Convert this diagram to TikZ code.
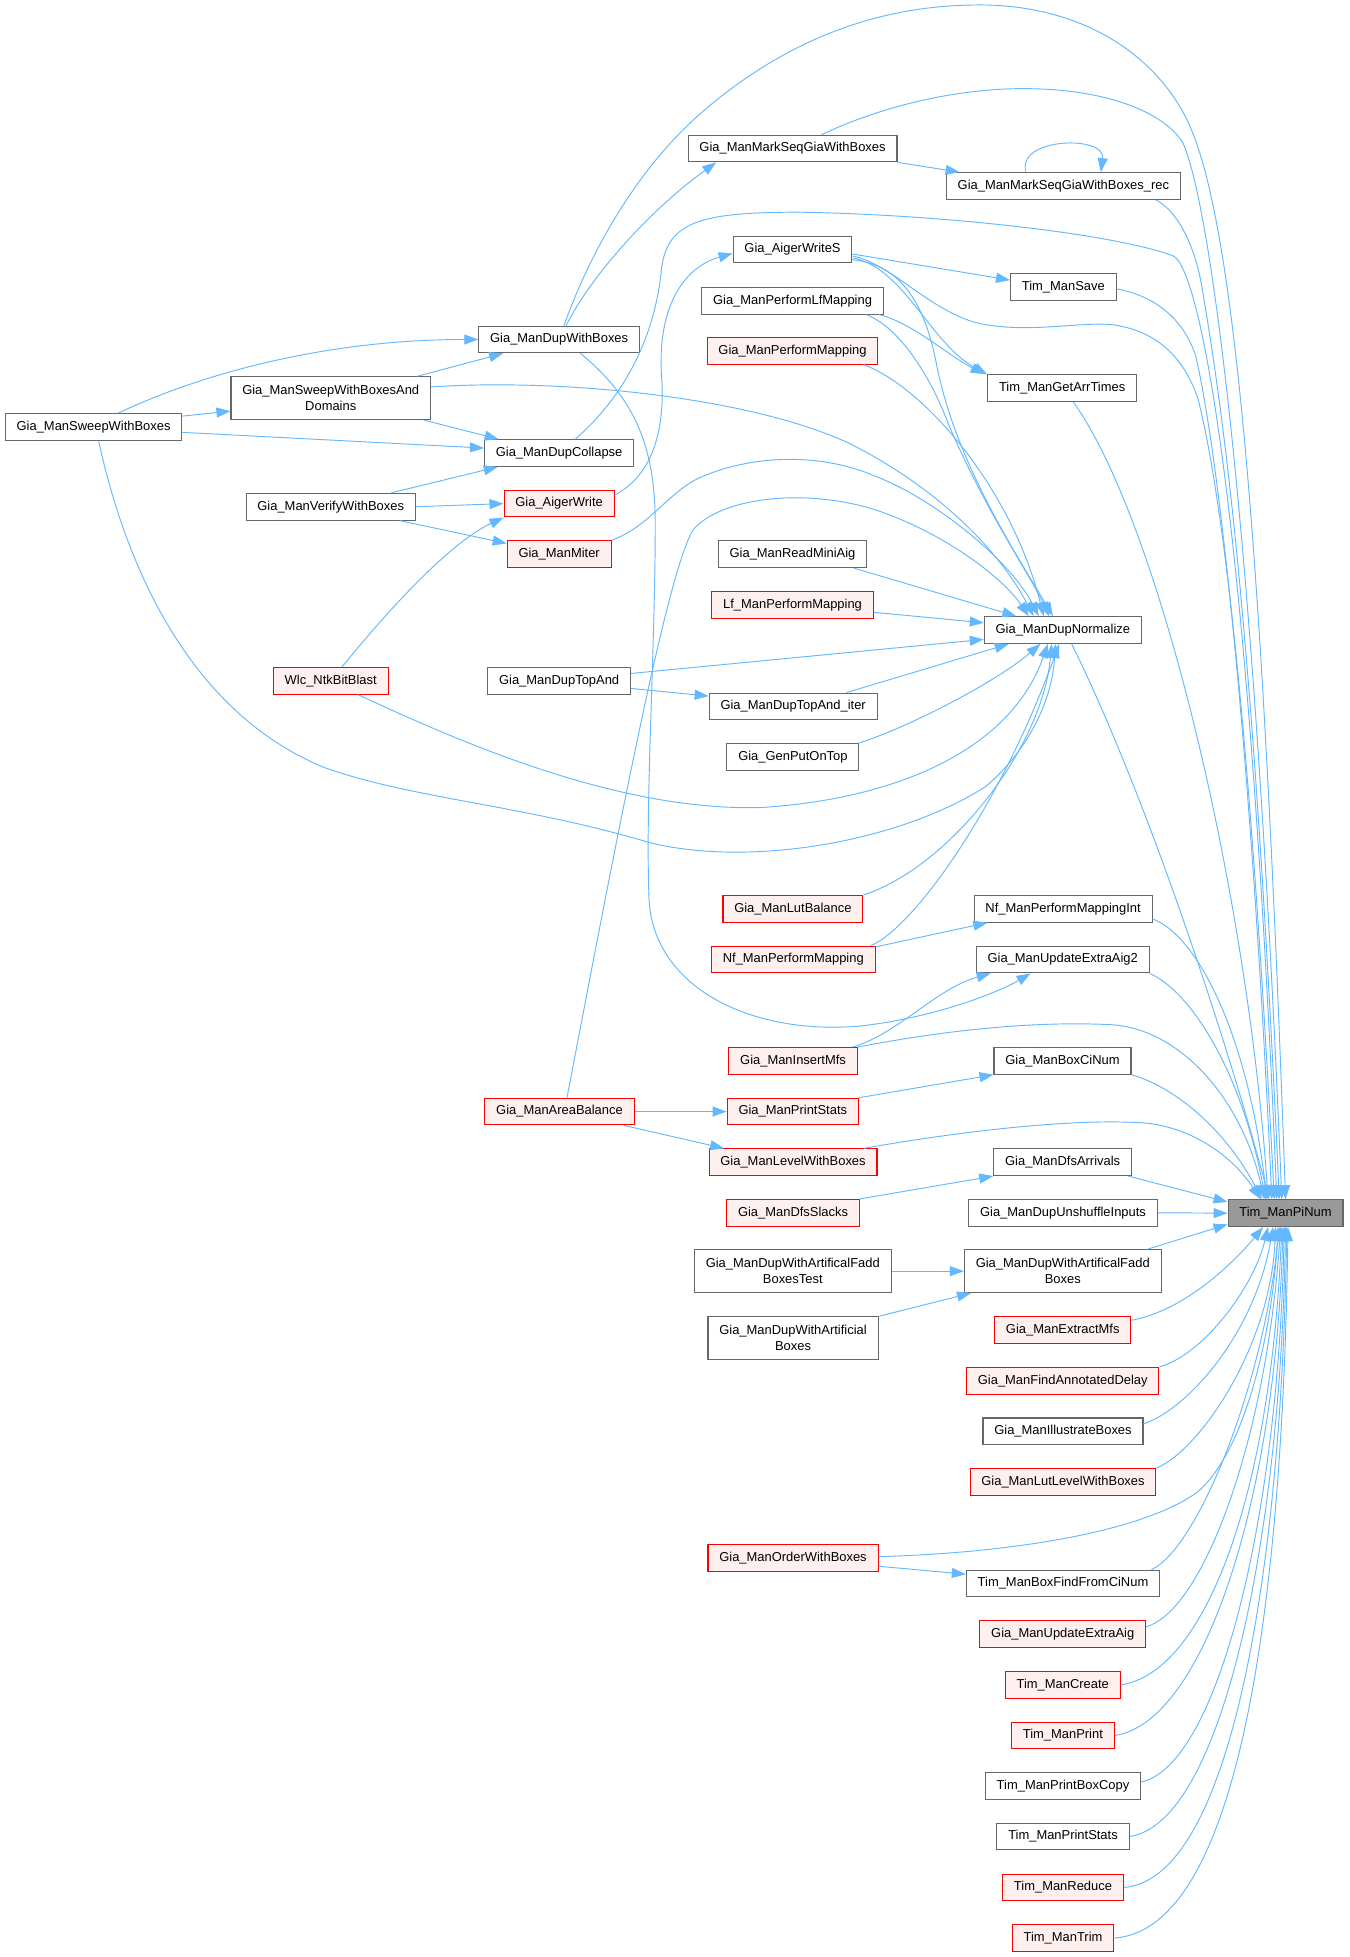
\documentclass[tikz,border=0pt]{standalone}
\usepackage{fontspec}
\setmainfont{Liberation Sans}
\usetikzlibrary{arrows.meta,calc}
\definecolor{edgeblue}{HTML}{63B8FF}
\definecolor{boxgray}{HTML}{666666}
\definecolor{redfill}{HTML}{FFF0F0}
\definecolor{rootgray}{HTML}{999999}
\begin{document}
\begin{tikzpicture}[x=0.9359pt,y=-0.9359pt,
    fn/.style={draw=boxgray,fill=white,line width=0.8pt,minimum height=20pt,
      inner xsep=8.5pt,inner ysep=5pt,align=center,
      font=\fontsize{9.7}{12}\selectfont},
    fnred/.style={fn,draw=red,fill=redfill},
    fnroot/.style={fn,fill=rootgray},
    fntwo/.style={minimum height=32pt},
    call/.style={color=edgeblue,line width=0.7pt,-{Triangle[length=10.5pt,width=7.5pt]}}]
  \fill[white] (0,0) rectangle (1081,1568);
  \useasboundingbox (0,0) rectangle (1081,1568);

  \node[fnroot] (tim) at (1030,972) {Tim\_ManPiNum};

  \node[fn] (mark) at (635,119) {Gia\_ManMarkSeqGiaWithBoxes};
  \node[fn] (markrec) at (852,149) {Gia\_ManMarkSeqGiaWithBoxes\_rec};
  \node[fn] (aws) at (635,200) {Gia\_AigerWriteS};
  \node[fn] (save) at (852,230) {Tim\_ManSave};
  \node[fn] (lfmap) at (635,241) {Gia\_ManPerformLfMapping};
  \node[fnred] (permap) at (635,281) {Gia\_ManPerformMapping};
  \node[fn] (dwb) at (448,272) {Gia\_ManDupWithBoxes};
  \node[fn] (arrtimes) at (851,311) {Tim\_ManGetArrTimes};
  \node[fn,fntwo] (swd) at (265,319) {Gia\_ManSweepWithBoxesAnd\\Domains};
  \node[fn] (sweep) at (75,342) {Gia\_ManSweepWithBoxes};
  \node[fn] (collapse) at (448,363) {Gia\_ManDupCollapse};
  \node[fn] (verify) at (265,406) {Gia\_ManVerifyWithBoxes};
  \node[fnred] (aw) at (448,403.5) {Gia\_AigerWrite};
  \node[fnred] (miter) at (448,444) {Gia\_ManMiter};
  \node[fn] (readmini) at (635,444) {Gia\_ManReadMiniAig};
  \node[fnred] (lf) at (635,484.6) {Lf\_ManPerformMapping};
  \node[fn] (norm) at (851.6,504.8) {Gia\_ManDupNormalize};
  \node[fnred] (wlc) at (265,545.5) {Wlc\_NtkBitBlast};
  \node[fn] (topand) at (448,545.4) {Gia\_ManDupTopAnd};
  \node[fn] (topiter) at (635.5,566) {Gia\_ManDupTopAnd\_iter};
  \node[fn] (puttop) at (635.3,606.3) {Gia\_GenPutOnTop};
  \node[fnred] (lutbal) at (635.3,728.2) {Gia\_ManLutBalance};
  \node[fn] (nfint) at (851.8,728.2) {Nf\_ManPerformMappingInt};
  \node[fnred] (nfmap) at (635.6,768.8) {Nf\_ManPerformMapping};
  \node[fn] (upd2) at (851.5,768.8) {Gia\_ManUpdateExtraAig2};
  \node[fnred] (insmfs) at (635.4,850) {Gia\_ManInsertMfs};
  \node[fn] (boxci) at (851.3,850) {Gia\_ManBoxCiNum};
  \node[fnred] (areabal) at (448.3,890.6) {Gia\_ManAreaBalance};
  \node[fnred] (prstats) at (635.2,890.6) {Gia\_ManPrintStats};
  \node[fnred] (levelwb) at (635.4,931.2) {Gia\_ManLevelWithBoxes};
  \node[fn] (dfsarr) at (851.4,931.2) {Gia\_ManDfsArrivals};
  \node[fnred] (dfssl) at (635.4,971.7) {Gia\_ManDfsSlacks};
  \node[fn] (unshuf) at (851.7,971.7) {Gia\_ManDupUnshuffleInputs};
  \node[fn,fntwo] (faddtest) at (635.2,1018.5) {Gia\_ManDupWithArtificalFadd\\BoxesTest};
  \node[fn,fntwo] (fadd) at (851.5,1018.5) {Gia\_ManDupWithArtificalFadd\\Boxes};
  \node[fn,fntwo] (artbox) at (635.4,1072.2) {Gia\_ManDupWithArtificial\\Boxes};
  \node[fnred] (extmfs) at (851.5,1065.8) {Gia\_ManExtractMfs};
  \node[fnred] (annot) at (851.5,1106.3) {Gia\_ManFindAnnotatedDelay};
  \node[fn] (illus) at (851.7,1146.8) {Gia\_ManIllustrateBoxes};
  \node[fnred] (lutlev) at (851.7,1187.3) {Gia\_ManLutLevelWithBoxes};
  \node[fnred] (order) at (635.4,1248.2) {Gia\_ManOrderWithBoxes};
  \node[fn] (boxfind) at (851.7,1268.8) {Tim\_ManBoxFindFromCiNum};
  \node[fnred] (upd) at (851.5,1309.4) {Gia\_ManUpdateExtraAig};
  \node[fnred] (create) at (851.5,1350) {Tim\_ManCreate};
  \node[fnred] (print) at (851.6,1390.5) {Tim\_ManPrint};
  \node[fn] (pbox) at (851.7,1431.1) {Tim\_ManPrintBoxCopy};
  \node[fn] (tpstats) at (851.7,1471.5) {Tim\_ManPrintStats};
  \node[fnred] (reduce) at (851.7,1512.3) {Tim\_ManReduce};
  \node[fnred] (trim) at (851.7,1552.8) {Tim\_ManTrim};

  \begin{scope}[call]
    % upper part
    \draw (dwb) .. controls (462,232) and (495,150) .. (560,92)
      .. controls (640,22) and (720,3) .. (790,4)
      .. controls (880,6) and (935,55) .. (955,105)
      .. controls (990,190) and (1012,450) .. (tim.north);
    \draw (dwb) .. controls (475,218) and (525,165) .. ($(mark.south west)+(23,0)$);
    \draw (mark.south east) -- ($(markrec.north west)+(11,0)$);
    \draw ($(markrec.north)+(-30,0)$) .. controls (814,110) and (886,108) .. ($(markrec.north)+(30,0)$);
    \draw (mark) .. controls (700,88) and (760,71) .. (820,71)
      .. controls (890,71) and (935,92) .. (948,115)
      .. controls (972,170) and (1006,450) .. ($(tim.north)+(-3,0)$);
    \draw ($(markrec.south east)+(-20,0)$) .. controls (945,170) and (958,200) .. (963,230)
      .. controls (980,330) and (1004,500) .. ($(tim.north)+(-5,0)$);
    \draw (collapse) .. controls (500,318) and (525,270) .. (530,215)
      .. controls (535,178) and (560,170) .. (640,170)
      .. controls (760,172) and (895,188) .. (940,205)
      .. controls (965,218) and (1002,450) .. ($(tim.north)+(-7,0)$);
    \draw ($(aws.east)+(0,5)$) .. controls (715,212) and (740,245) .. (780,258)
      .. controls (820,268) and (860,258) .. (890,260)
      .. controls (930,265) and (950,290) .. (960,320)
      .. controls (985,420) and (1005,650) .. ($(tim.north)+(-9,0)$);
    \draw ($(aws.east)+(0,3.5)$) -- ($(save.west)+(0,-5.6)$);
    \draw ($(aws.east)+(0,6.5)$) .. controls (725,215) and (745,275) .. (arrtimes.north west);
    \draw ($(aws.east)+(0,8)$) .. controls (720,212) and (740,240) .. (750,290)
      .. controls (765,370) and (815,445) .. ($(norm.north)+(-8,0)$);
    \draw ($(lfmap.south east)+(-4,0)$) .. controls (730,258) and (760,285) .. ($(arrtimes.north west)+(-2,0)$);
    \draw ($(lfmap.south east)+(-14,0)$) .. controls (720,262) and (745,300) .. (760,340)
      .. controls (790,410) and (825,460) .. ($(norm.north)+(-11,0)$);
    \draw ($(save.east)+(0,1.5)$) .. controls (925,237) and (948,255) .. (958,285)
      .. controls (980,380) and (1005,650) .. ($(tim.north)+(-11,0)$);
    \draw ($(arrtimes.south)+(9,0)$) .. controls (930,420) and (1000,720) .. ($(tim.north)+(-14,0)$);
    \draw ($(permap.south east)+(-12,0)$) .. controls (740,310) and (810,390) .. ($(norm.north west)+(48,0)$);
    \draw ($(swd.east)+(0,-9)$) .. controls (450,303) and (600,318) .. (680,355)
      .. controls (750,390) and (800,440) .. ($(norm.north west)+(40,0)$);
    \draw ($(sweep.north)+(20,0)$) .. controls (160,300) and (260,272) .. (dwb.west);
    \draw ($(sweep.east)+(0,-8.6)$) -- ($(swd.west)+(0,10.4)$);
    \draw ($(sweep.east)+(0,4.4)$) -- ($(collapse.west)+(0,-4)$);
    \draw ($(sweep.south)+(4,0)$) .. controls (100,450) and (150,570) .. (260,615)
      .. controls (330,640) and (420,645) .. (520,675)
      .. controls (600,695) and (720,675) .. (790,630)
      .. controls (825,600) and (843,560) .. ($(norm.south)+(-6,0)$);
    \draw ($(swd.north east)+(-11,0)$) -- ($(dwb.south west)+(20,0)$);
    \draw ($(swd.south east)+(-6,0)$) -- ($(collapse.north west)+(11.7,0)$);
    \draw ($(verify.north east)+(-20,0)$) -- ($(collapse.south west)+(11,0)$);
    \draw (verify.east) -- (aw.west);
    \draw ($(verify.south east)+(-13,0)$) -- ($(miter.west)+(0,-8.6)$);
    \draw ($(aw.east)+(0,-7)$) .. controls (525,380) and (533,340) .. (530,300)
      .. controls (527,250) and (545,215) .. ($(aws.west)+(0,3)$);
    \draw (miter.north east) .. controls (520,422) and (535,395) .. (560,383)
      .. controls (600,365) and (655,362) .. (700,381)
      .. controls (750,400) and (810,450) .. ($(norm.north west)+(44,0)$);
    \draw ($(wlc.north)+(9,0)$) .. controls (310,490) and (360,435) .. (aw.south west);
    \draw ($(wlc.south)+(22,0)$) .. controls (380,600) and (500,650) .. (610,647)
      .. controls (720,640) and (810,600) .. ($(norm.south)+(-12,0)$);
    \draw ($(areabal.north)+(6,0)$) .. controls (500,640) and (535,460) .. (555,425)
      .. controls (575,400) and (640,390) .. (700,408)
      .. controls (760,428) and (805,465) .. ($(norm.north west)+(36,0)$);
    \draw ($(readmini.south east)+(-11,0)$) -- ($(norm.north west)+(26,0)$);
    \draw ($(lf.east)+(0,6)$) -- ($(norm.west)+(0,-5.8)$);
    \draw ($(topand.east)+(0,-5.8)$) -- ($(norm.west)+(0,7.5)$);
    \draw ($(topand.east)+(0,6.2)$) -- ($(topiter.west)+(0,-8.3)$);
    \draw ($(topiter.north east)+(-25,0)$) -- ($(norm.south west)+(20,0)$);
    \draw (puttop.north east) .. controls (730,582) and (800,545) .. ($(norm.south)+(-18,0)$);
    \draw (lutbal.north east) .. controls (760,695) and (835,600) .. ($(norm.south)+(-9,0)$);
    \draw ($(nfmap.north east)+(-4,0)$) .. controls (730,745) and (800,650) .. ($(norm.south)+(-3,0)$);
    \draw ($(nfmap.north east)+(0,1)$) -- ($(nfint.south west)+(11,0)$);
    \draw ($(norm.south)+(7,0)$) .. controls (920,640) and (985,840) .. ($(tim.north)+(-13,0)$);
    \draw ($(nfint.east)+(0,8)$) .. controls (960,750) and (1000,830) .. ($(tim.north)+(-15,0)$);
    % middle part
    \draw ($(dwb.south)+(17,0)$) .. controls (510,320) and (525,360) .. (525,420)
      .. controls (525,520) and (517,640) .. (520,720)
      .. controls (523,790) and (600,830) .. (690,822)
      .. controls (750,815) and (800,795) .. ($(upd2.south west)+(44,0)$);
    \draw ($(insmfs.north east)+(-4,0)$) .. controls (720,828) and (750,792) .. ($(upd2.south west)+(12,0)$);
    \draw (insmfs.north east) .. controls (760,825) and (830,818) .. (890,821)
      .. controls (945,824) and (995,880) .. ($(tim.north)+(-17,0)$);
    \draw (upd2.south east) .. controls (955,795) and (995,860) .. ($(tim.north)+(-16,0)$);
    \draw (areabal.east) -- (prstats.west);
    \draw ($(areabal.south east)+(-8.5,0)$) -- ($(levelwb.north west)+(12.5,0)$);
    \draw (prstats.north east) -- (boxci.south west);
    \draw (boxci.south east) .. controls (945,872) and (985,910) .. ($(tim.north)+(-19,0)$);
    \draw ($(levelwb.north east)+(-11,0)$) .. controls (760,908) and (860,895) .. (920,900)
      .. controls (960,905) and (990,930) .. ($(tim.north)+(-20,0)$);
    \draw (dfssl.north east) -- (dfsarr.south west);
    \draw ($(dfsarr.south east)+(-3,0)$) -- ($(tim.west)+(0,-9)$);
    \draw (unshuf.east) -- (tim.west);
    \draw ($(fadd.north east)+(-11.6,0)$) -- ($(tim.west)+(0,9)$);
    \draw (faddtest.east) -- (fadd.west);
    \draw (artbox.north east) -- ($(fadd.south west)+(5.7,0)$);
    % lower part
    \draw ($(extmfs.east)+(0,-8)$) .. controls (950,1050) and (990,1010) .. ($(tim.south)+(-18,0)$);
    \draw (annot.north east) .. controls (965,1085) and (1005,1030) .. ($(tim.south)+(-14,0)$);
    \draw ($(illus.east)+(0,-6)$) .. controls (950,1130) and (1005,1070) .. ($(tim.south)+(-10,0)$);
    \draw (lutlev.north east) .. controls (960,1163) and (1018,1080) .. ($(tim.south)+(-8,0)$);
    \draw ($(order.east)+(0,-1)$) .. controls (820,1244) and (920,1225) .. (960,1195)
      .. controls (1000,1160) and (1020,1060) .. ($(tim.south)+(-6,0)$);
    \draw ($(order.east)+(0,6.7)$) -- ($(boxfind.west)+(0,-7.5)$);
    \draw ($(boxfind.north east)+(-7,0)$) .. controls (960,1240) and (1012,1110) .. ($(tim.south)+(-5,0)$);
    \draw ($(upd.east)+(0,-6)$) .. controls (965,1290) and (1015,1150) .. ($(tim.south)+(-4,0)$);
    \draw (create.east) .. controls (965,1340) and (1018,1200) .. ($(tim.south)+(-3,0)$);
    \draw (print.east) .. controls (965,1380) and (1022,1200) .. ($(tim.south)+(-2,0)$);
    \draw ($(pbox.east)+(0,-3.4)$) .. controls (975,1415) and (1024,1220) .. ($(tim.south)+(-1,0)$);
    \draw (tpstats.east) .. controls (980,1460) and (1026,1230) .. (tim.south);
    \draw (reduce.east) .. controls (990,1505) and (1027,1240) .. ($(tim.south)+(1,0)$);
    \draw (trim.east) .. controls (1000,1545) and (1028,1250) .. ($(tim.south)+(2,0)$);
  \end{scope}
\end{tikzpicture}
\end{document}
